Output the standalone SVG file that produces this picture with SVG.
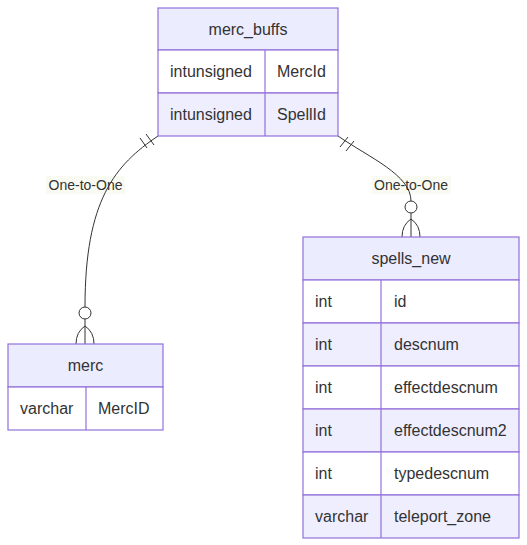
<svg xmlns="http://www.w3.org/2000/svg" width="527" height="545" viewBox="0 0 527 545">
<style>
.hdr{fill:#ECECFF;stroke:#9370DB;stroke-width:1.2}
.odd{fill:#FFFFFF;stroke:#9370DB;stroke-width:1.2}
.even{fill:#EEEEFF;stroke:#9370DB;stroke-width:1.2}
.sep{stroke:#9370DB;stroke-width:1.2}
text{font-family:"Liberation Sans",Arial,sans-serif;font-size:16px;fill:#333333}
.c{text-anchor:middle}
.rel{fill:none;stroke:#333333;stroke-width:1}
.lbl{font-size:14px;text-anchor:middle}
.lblbg{fill:#F4F8E6;opacity:0.5}
</style>
<g id="connectors">
<rect class="lblbg" x="46" y="176" width="79" height="18"/>
<text class="lbl" x="85.5" y="190">One-to-One</text>
<rect class="lblbg" x="372" y="176" width="79" height="18"/>
<text class="lbl" x="411" y="190">One-to-One</text>
<path class="rel" d="M158,136 C115,165 85,200 85,307"/>
<path class="rel" d="M140,138 L147,148 M146,134 L154,145"/>
<circle class="rel" cx="85" cy="313" r="6"/>
<path class="rel" d="M85,319 L85,344 M85,326 Q76,332 76,344 M85,326 Q94,332 94,344"/>
<path class="rel" d="M338,136 C370,158 411,175 411,201"/>
<path class="rel" d="M340,147 L348,137 M346,151 L354,141"/>
<circle class="rel" cx="411" cy="207" r="6"/>
<path class="rel" d="M411,213 L411,237 M411,219 Q402,225 402,237 M411,219 Q420,225 420,237"/>
</g>
<g id="merc_buffs">
<rect class="hdr" x="158" y="8" width="180" height="42"/>
<rect class="odd" x="158" y="50" width="180" height="43"/>
<rect class="even" x="158" y="93" width="180" height="43"/>
<line class="sep" x1="265" y1="50" x2="265" y2="136"/>
<text class="c" x="248" y="34.5">merc_buffs</text>
<text x="170" y="77">intunsigned</text>
<text x="277" y="77">MercId</text>
<text x="170" y="120">intunsigned</text>
<text x="277" y="120">SpellId</text>
</g>
<g id="merc">
<rect class="hdr" x="8" y="344" width="155" height="43"/>
<rect class="odd" x="8" y="387" width="155" height="43"/>
<line class="sep" x1="86" y1="387" x2="86" y2="430"/>
<text class="c" x="85.5" y="371">merc</text>
<text x="20" y="414">varchar</text>
<text x="98" y="414">MercID</text>
</g>
<g id="spells_new">
<rect class="hdr" x="303" y="237" width="216" height="43"/>
<rect class="odd" x="303" y="280" width="216" height="43"/>
<rect class="even" x="303" y="323" width="216" height="43"/>
<rect class="odd" x="303" y="366" width="216" height="43"/>
<rect class="even" x="303" y="409" width="216" height="43"/>
<rect class="odd" x="303" y="452" width="216" height="43"/>
<rect class="even" x="303" y="495" width="216" height="43"/>
<line class="sep" x1="381" y1="280" x2="381" y2="538"/>
<text class="c" x="411" y="264">spells_new</text>
<text x="315" y="307">int</text><text x="394" y="307">id</text>
<text x="315" y="350">int</text><text x="394" y="350">descnum</text>
<text x="315" y="393">int</text><text x="394" y="393">effectdescnum</text>
<text x="315" y="436">int</text><text x="394" y="436">effectdescnum2</text>
<text x="315" y="479">int</text><text x="394" y="479">typedescnum</text>
<text x="315" y="522">varchar</text><text x="394" y="522">teleport_zone</text>
</g>
</svg>
